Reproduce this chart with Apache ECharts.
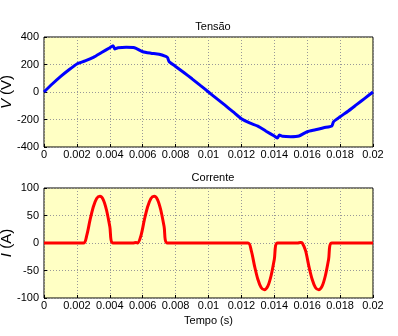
<!DOCTYPE html>
<html>
<head>
<meta charset="UTF-8">
<title>Tensão e Corrente</title>
<script src="https://cdn.jsdelivr.net/npm/echarts@6/dist/echarts.min.js"></script>
<style>
  html, body { margin: 0; padding: 0; background: #fff; }
</style>
</head>
<body>
<div id="main" style="width:398px;height:336px;"></div>
<script>
// tempo em segundos, tensão em V
var tempoV = [0, 0.0005, 0.001, 0.0015, 0.002, 0.0025, 0.003, 0.0035, 0.004, 0.0042, 0.0043, 0.0045,
  0.005, 0.0055, 0.006, 0.0065, 0.007, 0.0075, 0.0076, 0.008, 0.0085, 0.009, 0.0095, 0.01,
  0.0105, 0.011, 0.0115, 0.012, 0.0125, 0.013, 0.0135, 0.014, 0.0142, 0.0143, 0.0145,
  0.015, 0.0155, 0.016, 0.0165, 0.017, 0.0175, 0.0176, 0.018, 0.0185, 0.019, 0.0195, 0.02];
var tensao = [0, 58, 112, 160, 204, 226, 252, 287, 322, 337, 313, 322,
  325, 322, 293, 282, 274, 252, 222, 186, 142, 96, 48, 0,
  -48, -96, -145, -194, -225, -248, -285, -320, -335, -313, -322,
  -325, -320, -289, -275, -260, -247, -216, -180, -138, -92, -46, 0];

// corrente em A
var tempoI = [0, 0.0024, 0.0026, 0.0028, 0.003, 0.0032, 0.0034, 0.0036, 0.0038, 0.004, 0.0042,
  0.0054, 0.0056, 0.0057, 0.0059, 0.0061, 0.0063, 0.0065, 0.0067, 0.0069, 0.0071, 0.0073, 0.0075,
  0.0124, 0.0126, 0.0128, 0.013, 0.0132, 0.0134, 0.0136, 0.0138, 0.014, 0.0142,
  0.0154, 0.0156, 0.0157, 0.0159, 0.0161, 0.0163, 0.0165, 0.0167, 0.0169, 0.0171, 0.0173, 0.0175, 0.02];
var corrente = [0, 0, 14, 42, 66, 81, 85, 79, 60, 30, 0,
  0, 1, 0, 14, 42, 66, 81, 85, 79, 60, 30, 0,
  0, -14, -42, -66, -81, -85, -79, -60, -30, 0,
  0, 1, 0, -14, -42, -66, -81, -85, -79, -60, -30, 0, 0];

function pares(xs, ys) {
  var r = [];
  for (var i = 0; i < xs.length; i++) r.push([xs[i], ys[i]]);
  return r;
}

var fonte = 'Liberation Sans, Arial, sans-serif';
var labelX = {
  color: '#000', fontSize: 11, fontFamily: fonte, margin: 2,
  formatter: function (v) { return String(parseFloat(v.toFixed(4))); }
};
var splitL = { show: true, lineStyle: { color: '#999', type: [1, 2], width: 1 } };

function eixoX(idx, nome) {
  return {
    type: 'value', gridIndex: idx, min: 0, max: 0.02, interval: 0.002,
    name: nome, nameLocation: 'middle', nameGap: 17, nameMoveOverlap: false,
    nameTextStyle: { color: '#000', fontSize: 11, fontFamily: fonte },
    axisLine: { show: false, onZero: false },
    axisTick: { show: true, inside: true, length: 3, lineStyle: { color: '#000' } },
    axisLabel: labelX, splitLine: splitL
  };
}
function eixoY(idx, min, max, step, nome) {
  return {
    type: 'value', gridIndex: idx, min: min, max: max, interval: step,
    name: nome, nameLocation: 'middle', nameGap: 30, nameRotate: 90, nameMoveOverlap: false,
    nameTextStyle: {
      color: '#000', fontSize: 15, fontFamily: fonte,
      rich: { it: { fontStyle: 'italic', fontSize: 15, fontFamily: fonte, color: '#000' } }
    },
    axisLine: { show: false, onZero: false },
    axisTick: { show: true, inside: true, length: 3, lineStyle: { color: '#000' } },
    axisLabel: { color: '#000', fontSize: 11, fontFamily: fonte, margin: 5 },
    splitLine: splitL
  };
}

var chart = echarts.init(document.getElementById('main'));
chart.setOption({
  animation: false,
  backgroundColor: '#fff',
  title: [
    { text: 'Tensão', left: 208, top: 16, textAlign: 'center',
      textStyle: { fontSize: 11, fontWeight: 'normal', color: '#000', fontFamily: fonte } },
    { text: 'Corrente', left: 208, top: 167, textAlign: 'center',
      textStyle: { fontSize: 11, fontWeight: 'normal', color: '#000', fontFamily: fonte } }
  ],
  grid: [
    { left: 44, top: 37, width: 329, height: 110, outerBoundsMode: 'none', containLabel: false,
      show: true, backgroundColor: '#ffffc4', borderColor: '#000', borderWidth: 1 },
    { left: 44, top: 188, width: 329, height: 110, outerBoundsMode: 'none', containLabel: false,
      show: true, backgroundColor: '#ffffc4', borderColor: '#000', borderWidth: 1 }
  ],
  xAxis: [eixoX(0, ''), eixoX(1, 'Tempo (s)')],
  yAxis: [
    eixoY(0, -400, 400, 200, '{it|V} (V)'),
    eixoY(1, -100, 100, 50, '{it|I} (A)')
  ],
  series: [
    { type: 'line', xAxisIndex: 0, yAxisIndex: 0, data: pares(tempoV, tensao),
      showSymbol: false, smooth: 0.2, lineStyle: { color: '#0000ff', width: 3 } },
    { type: 'line', xAxisIndex: 1, yAxisIndex: 1, data: pares(tempoI, corrente),
      showSymbol: false, smooth: 0.3, lineStyle: { color: '#ff0000', width: 3 } }
  ]
});
</script>
</body>
</html>
